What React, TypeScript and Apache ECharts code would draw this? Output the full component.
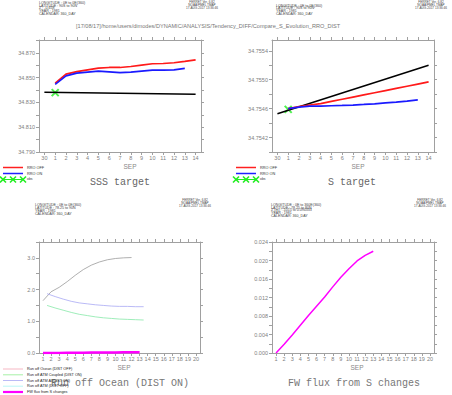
import React, { useEffect, useRef } from "react";
import * as echarts from "echarts";

// ---------- data ----------
const topDayTicks = [0, 1, 2, 3, 4, 5, 6, 7, 8, 9, 10, 11, 12, 13, 14];
const bottomDayTicks = [1, 2, 3, 4, 5, 6, 7, 8, 9, 10, 11, 12, 13, 14, 15, 16, 17, 18, 19, 20];

// SSS target
const sssDays = [1, 2, 3, 4, 5, 6, 7, 8, 9, 10, 11, 12, 13, 14];
const sssRroOff = [34.8456, 34.8529, 34.855, 34.8564, 34.8578, 34.8583, 34.8583, 34.8591, 34.8602, 34.8613, 34.8615, 34.8621, 34.8632, 34.8645];
const sssRroOnDays = [1, 2, 3, 4, 5, 6, 7, 8, 9, 10, 11, 12, 13];
const sssRroOn = [34.8447, 34.8515, 34.8537, 34.8545, 34.8553, 34.8548, 34.8542, 34.8545, 34.8553, 34.8561, 34.8561, 34.8564, 34.8575];
const sssTargetDays = [0, 14];
const sssTarget = [34.8382, 34.8366];
const sssObs = [[1, 34.838]];

// S target
const sDays = [1, 2, 3, 4, 5, 6, 7, 8, 9, 10, 11, 12, 13, 14];
const sRroOff = [34.7546, 34.75463, 34.75465, 34.75467, 34.7547, 34.75473, 34.75476, 34.75479, 34.75482, 34.75485, 34.75488, 34.75491, 34.75494, 34.75497];
const sRroOnDays = [1, 2, 3, 4, 5, 6, 7, 8, 9, 10, 11, 12, 13];
const sRroOn = [34.7546, 34.75462, 34.754635, 34.754635, 34.75464, 34.754644, 34.75465, 34.754658, 34.754667, 34.754681, 34.75469, 34.754704, 34.754722];
const sTargetDays = [0, 14];
const sTarget = [34.75453, 34.7552];
const sObs = [[1, 34.75459]];

// Run off
const oceanDays = [1, 2, 3, 4, 5, 6, 7, 8, 9, 10, 11, 12];
const runoffOceanDistOff = [1.65, 1.93, 2.07, 2.25, 2.45, 2.63, 2.77, 2.87, 2.94, 2.98, 3.0, 3.01];
const atmDays = [1.5, 2.5, 3.5, 4.5, 5.5, 6.5, 7.5, 8.5, 9.5, 10.5, 11.5, 12.5, 13.5];
const runoffAtmAlDistOn = [1.87, 1.78, 1.7, 1.63, 1.58, 1.55, 1.52, 1.5, 1.48, 1.47, 1.47, 1.46, 1.46];
const runoffAtmCoupledDistOn = [1.5, 1.42, 1.35, 1.28, 1.22, 1.18, 1.14, 1.11, 1.09, 1.07, 1.06, 1.05, 1.04];

// FW flux from S changes
const fwDays = [1, 2, 3, 4, 5, 6, 7, 8, 9, 10, 11, 12, 13];
const fwFlux = [0, 0.0019, 0.0039, 0.006, 0.0081, 0.0101, 0.0121, 0.0143, 0.0164, 0.0182, 0.0199, 0.0211, 0.022];

// tick values
const sssTicks = [34.79, 34.8, 34.81, 34.82, 34.83, 34.84, 34.85, 34.86, 34.87, 34.88];
const sssLabels = [34.79, 34.81, 34.83, 34.85, 34.87];
const sTicks = [34.754, 34.7542, 34.7544, 34.7546, 34.7548, 34.755, 34.7552, 34.7554];
const sLabels = [34.7542, 34.7546, 34.755, 34.7554];
const roTicks = [0, 0.5, 1, 1.5, 2, 2.5, 3, 3.5];
const roLabels = [0, 1, 2, 3];
const fwTicks = [0, 0.002, 0.004, 0.006, 0.008, 0.01, 0.012, 0.014, 0.016, 0.018, 0.02, 0.022, 0.024];
const fwLabels = [0, 0.004, 0.008, 0.012, 0.016, 0.02, 0.024];

const zip = (xs: number[], ys: number[]) => xs.map((x, i) => [x, ys[i]]);

const AX = "#a0a0a0";
const LBL = "#808080";
const SANS = "Liberation Sans";

function xAxes(gi: number, min: number, max: number, ticks: number[], fmt: (v: number) => string) {
  const base = {
    type: "value",
    gridIndex: gi,
    min,
    max,
    splitLine: { show: false },
    axisLine: { show: true, onZero: false, lineStyle: { color: AX, width: 1 } },
    axisTick: { show: true, length: 3, customValues: ticks, lineStyle: { color: AX } },
  };
  return [
    {
      ...base,
      position: "bottom",
      axisLabel: { show: true, customValues: ticks, formatter: fmt, fontSize: 5.5, color: LBL, fontFamily: SANS, margin: 3 },
    },
    { ...base, position: "top", axisLabel: { show: false } },
  ];
}

function yAxes(gi: number, min: number, max: number, ticks: number[], labels: number[], dec: number) {
  const base = {
    type: "value",
    gridIndex: gi,
    min,
    max,
    splitLine: { show: false },
    axisLine: { show: true, onZero: false, lineStyle: { color: AX, width: 1 } },
    axisTick: { show: true, length: 3, customValues: ticks, lineStyle: { color: AX } },
  };
  return [
    {
      ...base,
      position: "left",
      axisLabel: { show: true, customValues: labels, formatter: (v: number) => v.toFixed(dec), fontSize: 5.5, color: LBL, fontFamily: SANS, margin: 4 },
    },
    { ...base, position: "right", axisLabel: { show: false } },
  ];
}

function lineSeries(gi: number, data: number[][], color: string, width: number) {
  return {
    type: "line",
    xAxisIndex: gi * 2,
    yAxisIndex: gi * 2,
    data,
    showSymbol: false,
    symbol: "none",
    lineStyle: { color, width },
    silent: true,
  };
}

const X_SYMBOL = "path://M0,0L10,10M10,0L0,10";

function obsSeries(gi: number, data: number[][]) {
  return {
    type: "scatter",
    xAxisIndex: gi * 2,
    yAxisIndex: gi * 2,
    data,
    symbol: X_SYMBOL,
    symbolSize: 7,
    itemStyle: { color: "rgba(0,0,0,0)", borderColor: "#22ee22", borderWidth: 2 },
    silent: true,
  };
}

function textEl(x: number, y: number, text: string, fontSize: number, fill: string, extra: any = {}) {
  return {
    type: "text",
    x,
    y,
    silent: true,
    style: { text, fontSize, fill, fontFamily: SANS, verticalAlign: "middle", align: "left", ...extra },
  };
}

function headerBlock(x: number, y: number, lines: string[], step: number, extra: any = {}) {
  return lines.map((t, i) => textEl(x, y + i * step, t, 3.6, "#444", extra));
}

function ferretBlock(cx: number, y: number) {
  return headerBlock(cx, y, ["FERRET Ver. 6.82", "NOAA/PMEL TMAP", "17-AUG-2017 13:36:46"], 2.9, { align: "center", fontSize: 3.1 });
}

function hLine(x1: number, x2: number, y: number, color: string, width: number) {
  return { type: "line", silent: true, shape: { x1, y1: y, x2, y2: y }, style: { stroke: color, lineWidth: width } };
}

function xMark(cx: number, cy: number, r: number) {
  return [
    { type: "line", silent: true, shape: { x1: cx - r, y1: cy - r, x2: cx + r, y2: cy + r }, style: { stroke: "#22ee22", lineWidth: 1.6 } },
    { type: "line", silent: true, shape: { x1: cx - r, y1: cy + r, x2: cx + r, y2: cy - r }, style: { stroke: "#22ee22", lineWidth: 1.6 } },
  ];
}

function rroLegend(x: number, y: number) {
  return [
    hLine(x, x + 20, y, "#ff2020", 1.5),
    textEl(x + 24, y, "RRO OFF", 3.8, "#333"),
    hLine(x, x + 20, y + 6, "#2020ff", 1.5),
    textEl(x + 24, y + 6, "RRO ON", 3.8, "#333"),
    hLine(x, x + 20, y + 12, "#22ee22", 1),
    ...xMark(x, y + 12, 3),
    ...xMark(x + 10, y + 12, 3),
    ...xMark(x + 20, y + 12, 3),
    textEl(x + 24, y + 11.5, "obs", 3.4, "#333"),
  ];
}

const TITLE = { fontFamily: "Liberation Mono", align: "center" };

export default function App() {
  const ref = useRef<HTMLDivElement>(null);
  useEffect(() => {
    if (!ref.current) return;
    const chart = echarts.init(ref.current, undefined, { renderer: "svg" });
    const dayFmtTop = (v: number) => (v === 0 ? "30" : String(v));
    const dayFmt = (v: number) => String(v);
    const grids = [
      { left: 39, top: 40, width: 162, height: 112 },
      { left: 272, top: 40, width: 162, height: 112 },
      { left: 39, top: 242, width: 161, height: 111 },
      { left: 272, top: 242, width: 162, height: 111 },
    ];
    const option: any = {
      animation: false,
      backgroundColor: "#ffffff",
      grid: grids.map((g) => ({ ...g, show: false, containLabel: false })),
      xAxis: [
        ...xAxes(0, -0.5, 14.5, topDayTicks, dayFmtTop),
        ...xAxes(1, -0.5, 14.5, topDayTicks, dayFmtTop),
        ...xAxes(2, 0.5, 20.5, bottomDayTicks, dayFmt),
        ...xAxes(3, 0.5, 20.5, bottomDayTicks, dayFmt),
      ],
      yAxis: [
        ...yAxes(0, 34.79, 34.8805, sssTicks, sssLabels, 3),
        ...yAxes(1, 34.754, 34.75555, sTicks, sLabels, 4),
        ...yAxes(2, 0, 3.5, roTicks, roLabels, 1),
        ...yAxes(3, 0, 0.024, fwTicks, fwLabels, 3),
      ],
      series: [
        lineSeries(0, zip(sssTargetDays, sssTarget), "#000000", 1.5),
        lineSeries(0, zip(sssDays, sssRroOff), "#ff1a1a", 1.7),
        lineSeries(0, zip(sssRroOnDays, sssRroOn), "#1a1aff", 1.7),
        obsSeries(0, sssObs),
        lineSeries(1, zip(sTargetDays, sTarget), "#000000", 1.5),
        lineSeries(1, zip(sDays, sRroOff), "#ff1a1a", 1.7),
        lineSeries(1, zip(sRroOnDays, sRroOn), "#1a1aff", 1.7),
        obsSeries(1, sObs),
        lineSeries(2, zip(oceanDays, runoffOceanDistOff), "#9a9a9a", 0.8),
        lineSeries(2, zip(atmDays, runoffAtmAlDistOn), "#a8a8f4", 0.8),
        lineSeries(2, zip(atmDays, runoffAtmCoupledDistOn), "#86e8a8", 0.8),
        lineSeries(2, zip(fwDays, fwFlux), "#ff00ff", 2.5),
        lineSeries(3, zip(fwDays, fwFlux), "#ff00ff", 1.5),
      ],
      graphic: [
        textEl(76, 26, "[17/08/17]/home/users/dimodes/DYNAMIC/ANALYSIS/Tendency_DIFF/Compare_S_Evolution_RRO_DIST", 5.6, "#777"),
        ...headerBlock(39, 2.7, ["LONGITUDE : 0E to 0E(360)", "LATITUDE : 90S to 90N", "Z : -0.658", "YEAR : 1981", "CALENDAR: 360_DAY"], 2.8),
        ...ferretBlock(202, 1.8),
        ...headerBlock(276, 5.5, ["LONGITUDE : 0E to 0E(360)", "LATITUDE : 90S to 90N", "YEAR : 1981", "CALENDAR: 360_DAY"], 2.7),
        ...ferretBlock(431, 1.6),
        ...headerBlock(35, 205, ["LONGITUDE : 0E to 0E(360)", "LATITUDE : 78.25 to 90N", "YEAR : 1981", "CALENDAR: 360_DAY"], 2.9),
        ...ferretBlock(195, 199.5),
        ...headerBlock(271, 205, ["LONGITUDE : 0E to 360E(360)", "LATITUDE : 78.25 to 80N", "Z (m) : -1015 to 0.094333", "YEAR : 1981", "CALENDAR: 360_DAY"], 2.7),
        ...ferretBlock(430, 199.5),
        textEl(130, 166, "SEP", 6.5, "#888", { align: "center" }),
        textEl(358, 166, "SEP", 6.5, "#888", { align: "center" }),
        textEl(124, 367.5, "SEP", 6.5, "#888", { align: "center" }),
        textEl(357, 367.5, "SEP", 6.5, "#888", { align: "center" }),
        textEl(120, 182, "SSS target", 10, "#666", TITLE),
        textEl(352, 182, "S target", 10, "#666", TITLE),
        textEl(120, 383, "Run off Ocean (DIST ON)", 10, "#777", TITLE),
        textEl(354, 383, "FW flux from S changes", 10, "#777", TITLE),
        ...rroLegend(3, 167.5),
        ...rroLegend(236, 167.5),
        hLine(3, 23, 369, "#f4a4b4", 0.8),
        textEl(27, 369, "Run off Ocean (DIST OFF)", 3.8, "#222"),
        hLine(3, 23, 374.8, "#90ee90", 0.8),
        textEl(27, 374.8, "Run off ATM Coupled (DIST ON)", 3.8, "#222"),
        hLine(3, 23, 380.5, "#a8a8f4", 0.8),
        textEl(27, 380.5, "Run off ATM AI(DIST ON)", 3.8, "#222"),
        hLine(3, 23, 386.2, "#a8f4f4", 0.8),
        textEl(27, 386.2, "Run off ATM (DIST OFF)", 3.8, "#222"),
        hLine(3, 23, 392, "#ff00ff", 2.2),
        textEl(27, 392, "FW flux from S changes", 3.8, "#222"),
      ],
    };
    chart.setOption(option);
    return () => chart.dispose();
  }, []);
  return (
    <div
      ref={ref}
      style={{ position: "fixed", left: 0, top: 0, width: 452, height: 395, background: "#fff" }}
    />
  );
}
